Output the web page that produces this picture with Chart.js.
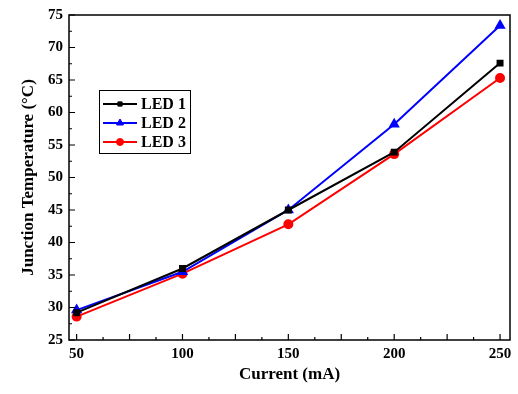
<!DOCTYPE html>
<html>
<head>
<meta charset="utf-8">
<script src="https://cdn.jsdelivr.net/npm/chart.js@4/dist/chart.umd.min.js"></script>
<style>
  html, body { margin: 0; padding: 0; background: #fff; }
  #wrap { width: 518px; height: 394px; }
</style>
</head>
<body>
<div id="wrap"><canvas id="lineChart" width="518" height="394"></canvas></div>
<script>
// data
var currents = [50, 100, 150, 200, 250];
var led1 = [29.2, 36.0, 45.0, 53.9, 67.6];
var led2 = [29.6, 35.5, 45.0, 58.2, 73.4];
var led3 = [28.6, 35.2, 42.8, 53.6, 65.3];
var xTickLabels = [50, 100, 150, 200, 250];
var yTickLabels = [25, 30, 35, 40, 45, 50, 55, 60, 65, 70, 75];

var FONT = '"Liberation Serif", "Times New Roman", serif';

function pts(arr) {
    return currents.map(function (c, i) { return { x: c, y: arr[i] }; });
}

// frame + inward ticks, like the origin style plot
var framePlugin = {
    id: 'frame',
    afterDraw: function (chart) {
        var ctx = chart.ctx, a = chart.chartArea;
        var xs = chart.scales.x, ys = chart.scales.y;
        ctx.save();
        ctx.strokeStyle = '#000';
        ctx.lineWidth = 1.5;
        ctx.strokeRect(a.left, a.top, a.right - a.left, a.bottom - a.top);
        ctx.lineWidth = 1.2;
        ctx.beginPath();
        for (var v = 50; v <= 250; v += 12.5) {
            var px = xs.getPixelForValue(v);
            var len = (v % 25 === 0) ? 6 : 3;
            ctx.moveTo(px, a.bottom);
            ctx.lineTo(px, a.bottom - len);
        }
        for (var t = 25; t <= 75; t += 2.5) {
            var py = ys.getPixelForValue(t);
            var l = (t % 5 === 0) ? 6 : 3;
            ctx.moveTo(a.left, py);
            ctx.lineTo(a.left + l, py);
        }
        ctx.stroke();
        ctx.restore();
    }
};

// legend box inside the plot
var legendBox = {
    id: 'legendBox',
    afterDraw: function (chart) {
        var ctx = chart.ctx;
        var x0 = 99, y0 = 90, w = 91, h = 63;
        ctx.save();
        ctx.fillStyle = '#fff';
        ctx.fillRect(x0, y0, w, h);
        ctx.strokeStyle = '#000';
        ctx.lineWidth = 1;
        ctx.strokeRect(x0 + 0.5, y0 + 0.5, w, h);
        var rows = [104, 123, 142];
        chart.data.datasets.forEach(function (ds, i) {
            var y = rows[i];
            ctx.strokeStyle = ds.borderColor;
            ctx.fillStyle = ds.borderColor;
            ctx.lineWidth = 2;
            ctx.beginPath();
            ctx.moveTo(x0 + 4, y);
            ctx.lineTo(x0 + 38, y);
            ctx.stroke();
            ctx.lineWidth = 1;
            Chart.helpers.drawPoint(ctx, {
                pointStyle: ds.pointStyle,
                radius: ds.pointRadius - 0.5,
                borderWidth: 1
            }, x0 + 21, y);
            ctx.fillStyle = '#000';
            ctx.font = 'bold 16px ' + FONT;
            ctx.textBaseline = 'middle';
            ctx.fillText(ds.label, x0 + 42, y + 1);
        });
        ctx.restore();
    }
};

var ds = function (label, data, color, style, r) {
    return {
        label: label,
        data: pts(data),
        borderColor: color,
        backgroundColor: color,
        pointBackgroundColor: color,
        pointBorderColor: color,
        pointStyle: style,
        pointRadius: r,
        borderWidth: 2,
        tension: 0
    };
};

var ctxL = document.getElementById('lineChart').getContext('2d');
var myLineChart = new Chart(ctxL, {
    type: 'line',
    data: {
        datasets: [
            ds('LED 1', led1, '#000000', 'rect', 3.5),
            ds('LED 2', led2, '#0000ff', 'triangle', 4.5),
            ds('LED 3', led3, '#ff0000', 'circle', 4)
        ]
    },
    options: {
        responsive: false,
        animation: false,
        layout: { padding: { top: 11, right: 8, bottom: 9, left: 18 } },
        plugins: {
            legend: { display: false },
            tooltip: { enabled: false }
        },
        scales: {
            x: {
                type: 'linear',
                min: 46.4,
                max: 254.7,
                afterBuildTicks: function (s) {
                    s.ticks = xTickLabels.map(function (v) { return { value: v }; });
                },
                afterFit: function (s) { s.height = 45; },
                grid: { display: false, drawTicks: false },
                border: { display: false },
                ticks: {
                    color: '#000',
                    padding: 5,
                    maxRotation: 0,
                    font: { family: FONT, size: 15, weight: 'bold' }
                },
                title: {
                    display: true,
                    text: 'Current (mA)',
                    color: '#000',
                    padding: { top: 0, bottom: 0 },
                    font: { family: FONT, size: 17, weight: 'bold' }
                }
            },
            y: {
                min: 25,
                max: 75,
                afterBuildTicks: function (s) {
                    s.ticks = yTickLabels.map(function (v) { return { value: v }; });
                },
                afterFit: function (s) { s.width = 51; },
                grid: { display: false, drawTicks: false },
                border: { display: false },
                ticks: {
                    color: '#000',
                    padding: 6,
                    font: { family: FONT, size: 15, weight: 'bold' }
                },
                title: {
                    display: true,
                    text: 'Junction Temperature (\u00B0C)',
                    color: '#000',
                    padding: { top: 0, bottom: 0 },
                    font: { family: FONT, size: 17, weight: 'bold' }
                }
            }
        }
    },
    plugins: [framePlugin, legendBox]
});
</script>
</body>
</html>
